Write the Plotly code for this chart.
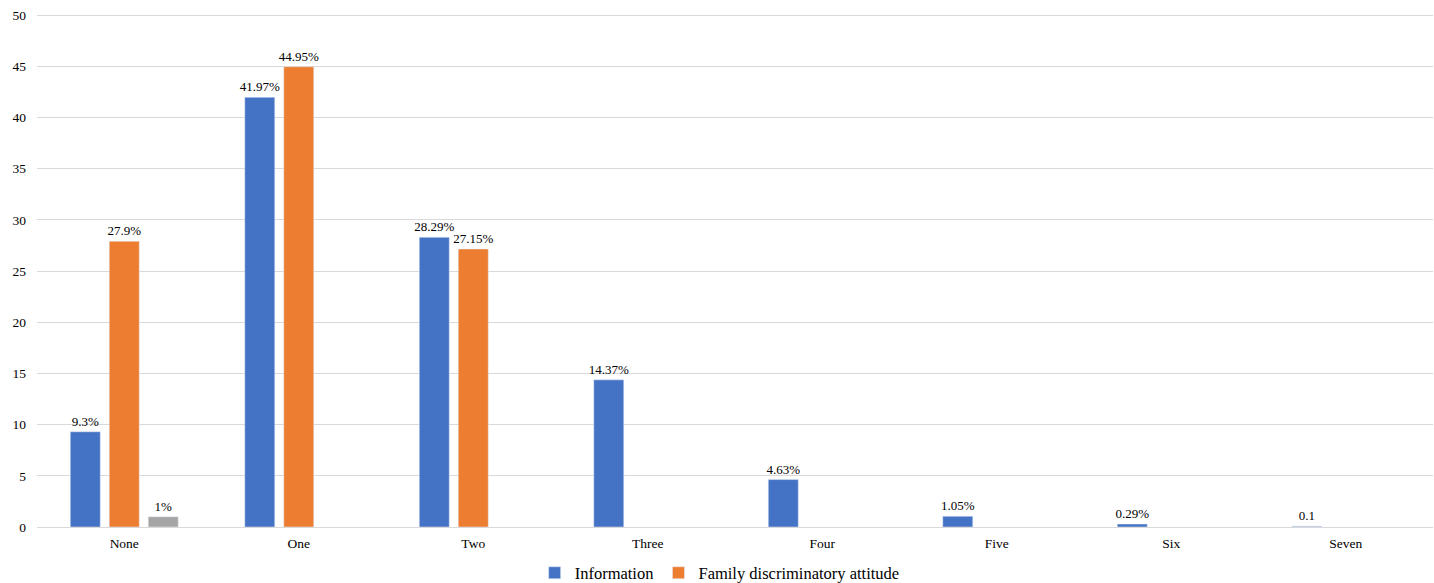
import plotly.graph_objects as go

categories = ["None", "One", "Two", "Three", "Four", "Five", "Six", "Seven"]
information = [9.3, 41.97, 28.29, 14.37, 4.63, 1.05, 0.29, 0.1]
information_labels = ["9.3%", "41.97%", "28.29%", "14.37%", "4.63%", "1.05%", "0.29%", "0.1"]
family = [27.9, 44.95, 27.15, None, None, None, None, None]
family_labels = ["27.9%", "44.95%", "27.15%", "", "", "", "", ""]
third = [1, None, None, None, None, None, None, None]
third_labels = ["1%", "", "", "", "", "", "", ""]
y_ticks = [0, 5, 10, 15, 20, 25, 30, 35, 40, 45, 50]

blue = "#4472C4"
info_colors = [blue] * 7 + ["#A9BFE8"]

font_family = "Liberation Serif"
label_font = dict(family=font_family, size=13, color="#000")

fig = go.Figure()
fig.add_trace(go.Bar(
    x=categories, y=information, name="Information",
    marker=dict(color=info_colors), text=information_labels,
    textposition="outside", cliponaxis=False, constraintext="none",
    textfont=label_font,
))
fig.add_trace(go.Bar(
    x=categories, y=family, name="Family discriminatory attitude",
    marker=dict(color="#ED7D31"), text=family_labels,
    textposition="outside", cliponaxis=False, constraintext="none",
    textfont=label_font,
))
fig.add_trace(go.Bar(
    x=categories, y=third, name="", showlegend=False,
    marker=dict(color="#A5A5A5"), text=third_labels,
    textposition="outside", cliponaxis=False, constraintext="none",
    textfont=label_font,
))

fig.update_layout(
    width=1434, height=583,
    margin=dict(l=37, r=1, t=13, b=56, autoexpand=False),
    paper_bgcolor="white", plot_bgcolor="white",
    barmode="group", bargap=0.33, bargroupgap=0.23,
    font=dict(family=font_family, size=13, color="#000"),
    showlegend=True,
    legend=dict(orientation="h", x=0.489, xanchor="center", y=-0.0895, yanchor="middle",
                font=dict(family=font_family, size=16.5, color="#000"),
                itemwidth=30),
    xaxis=dict(showline=True, linecolor="#d9d9d9", linewidth=1, ticks="",
               automargin=False, ticklabelstandoff=4,
               tickfont=dict(family=font_family, size=13.5, color="#000")),
    yaxis=dict(range=[0, 50.2], tickvals=y_ticks, showgrid=True, gridcolor="#d9d9d9",
               zeroline=False, showline=False, ticks="", automargin=False,
               ticklabelstandoff=10,
               tickfont=dict(family=font_family, size=13.5, color="#000")),
)

fig.write_html(
    "out.html",
    config={"displayModeBar": False},
    post_script="document.body.style.margin='0';document.body.style.overflow='hidden';",
)
